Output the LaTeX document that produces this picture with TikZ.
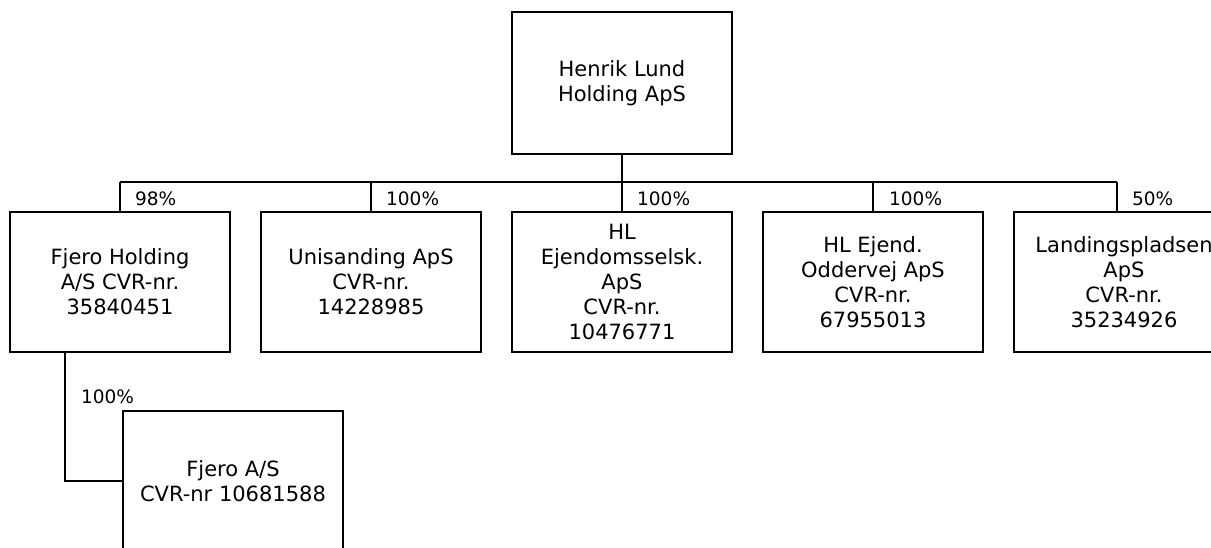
\documentclass[tikz,border=0pt]{standalone}
\usepackage{fontspec}
\setmainfont{DejaVu Sans}
\begin{document}
\begin{tikzpicture}[x=1pt,y=-1pt,
  box/.style={draw, line width=2pt, minimum width=220pt, minimum height=140pt, inner sep=0pt, align=center, font=\fontsize{21}{25}\selectfont},
  pct/.style={anchor=base west, inner sep=0pt, font=\fontsize{18.5}{20}\selectfont},
  link/.style={line width=2pt}]
\useasboundingbox (0,0) rectangle (1211,547);
\clip (0,0) rectangle (1211,547);
% top
\node[box, minimum height=142pt] (top) at (622,83) {Henrik Lund\\Holding ApS};
% row of subsidiaries
\node[box] (b1) at (120,282) {Fjero Holding\\A/S CVR-nr.\\35840451};
\node[box] (b2) at (371,282) {Unisanding ApS\\CVR-nr.\\14228985};
\node[box] (b3) at (622,282) {HL\\Ejendomsselsk.\\ApS\\CVR-nr.\\10476771};
\node[box] (b4) at (873,282) {HL Ejend.\\Oddervej ApS\\CVR-nr.\\67955013};
\node[box] (b5) at (1124,282) {Landingspladsen\\ApS\\CVR-nr.\\35234926};
% grandchild
\node[box] (fas) at (233,481) {Fjero A/S\\CVR-nr 10681588};
% bus
\coordinate (c1) at (120,182);
\coordinate (c2) at (371,182);
\coordinate (c3) at (622,182);
\coordinate (c4) at (873,182);
\coordinate (c5) at (1117,182);
\draw[link] (c1) -- (c5);
\draw[link] (top.south) -- (c3);
\draw[link] (c1) -- (b1.north);
\draw[link] (c2) -- (b2.north);
\draw[link] (c3) -- (b3.north);
\draw[link] (c4) -- (b4.north);
\draw[link] (c5) -- (c5 |- b5.north);
% child connector
\coordinate (k) at (65,352);
\draw[link] (b1.south -| k) |- (fas.west);
% labels
\node[pct] (p1) at (135,205) {98\%};
\node[pct] (p2) at (386,205) {100\%};
\node[pct] (p3) at (637,205) {100\%};
\node[pct] (p4) at (889,205) {100\%};
\node[pct] (p5) at (1132,205) {50\%};
\node[pct] (p6) at (81,403) {100\%};
\end{tikzpicture}
\end{document}
